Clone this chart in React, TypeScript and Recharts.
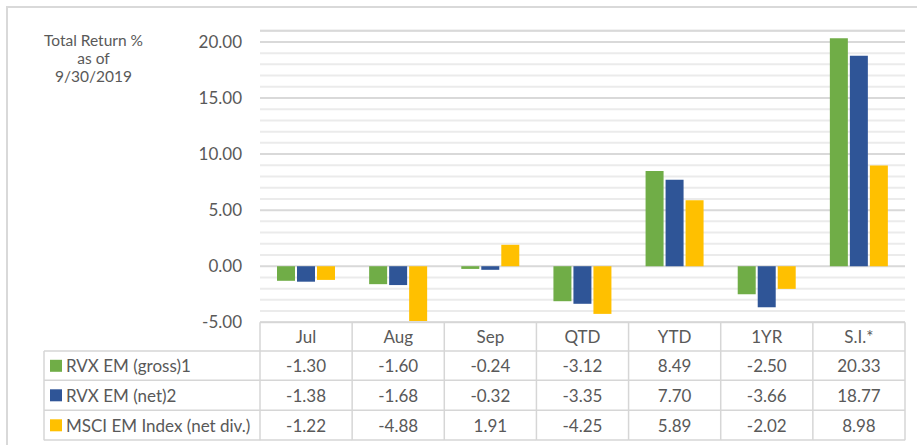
import React from "react";
import { BarChart, Bar, XAxis, YAxis, CartesianGrid, ReferenceLine } from "recharts";

const categories = ["Jul", "Aug", "Sep", "QTD", "YTD", "1YR", "S.I.*"];
const grossValues = [-1.3, -1.6, -0.24, -3.12, 8.49, -2.5, 20.33];
const netValues = [-1.38, -1.68, -0.32, -3.35, 7.7, -3.66, 18.77];
const msciValues = [-1.22, -4.88, 1.91, -4.25, 5.89, -2.02, 8.98];
const seriesNames = ["RVX EM (gross)1", "RVX EM (net)2", "MSCI EM Index (net div.)"];
const seriesKeys = ["gross", "net", "msci"];
const seriesColors = ["#70AD47", "#2F5597", "#FFC000"];
const seriesValues = [grossValues, netValues, msciValues];
const majorTicks = [-5, 0, 5, 10, 15, 20];
const minorTicks = [-4, -3, -2, -1, 1, 2, 3, 4, 6, 7, 8, 9, 11, 12, 13, 14, 16, 17, 18, 19, 21];
const titleLines = ["Total Return %", "as of", "9/30/2019"];

const data = categories.map((c, i) => ({
  name: c,
  gross: grossValues[i],
  net: netValues[i],
  msci: msciValues[i],
}));

const W = 917;
const H = 445;
const PLOT_LEFT = 260;
const PLOT_RIGHT = 905;
const PLOT_TOP = 30.7;
const PLOT_BOTTOM = 322.3;
const TABLE_H = 118;
const BAND = (PLOT_RIGHT - PLOT_LEFT) / categories.length;
const LEGEND_LEFT = 44;
const ROW_LINES = [28.7, 58, 88, 117.7];
const ROW_CENTERS = [14.5, 43.5, 73, 103];
const FONT = "Lato, 'Open Sans', sans-serif";
const TEXT = "#595959";
const LINE = "#d6d6d6";
const DOMAIN: [number, number] = [-5, 21];

const TableTick = (props: any) => {
  const { x, y, payload } = props;
  const i = categories.indexOf(payload.value);
  const left = x - BAND / 2;
  const right = x + BAND / 2;
  const els: any[] = [];
  els.push(<line key="vl" x1={left} x2={left} y1={y} y2={y + TABLE_H} stroke={LINE} strokeWidth={1.5} />);
  if (i === categories.length - 1) {
    els.push(<line key="vr" x1={right} x2={right} y1={y} y2={y + TABLE_H} stroke={LINE} strokeWidth={1.5} />);
  }
  ROW_LINES.forEach((r, k) => {
    els.push(<line key={"h" + k} x1={left} x2={right} y1={y + r} y2={y + r} stroke={LINE} strokeWidth={1.5} />);
  });
  els.push(
    <text key="hd" x={x} y={y + ROW_CENTERS[0]} textAnchor="middle" dominantBaseline="central" fill={TEXT} fontSize={17} fontFamily={FONT}>
      {payload.value}
    </text>
  );
  seriesValues.forEach((vals, k) => {
    els.push(
      <text key={"v" + k} x={x} y={y + ROW_CENTERS[k + 1]} textAnchor="middle" dominantBaseline="central" fill={TEXT} fontSize={17} fontFamily={FONT}>
        {vals[i].toFixed(2)}
      </text>
    );
  });
  if (i === 0) {
    const lx = LEGEND_LEFT;
    ROW_LINES.forEach((r, k) => {
      els.push(<line key={"lh" + k} x1={lx} x2={left} y1={y + r} y2={y + r} stroke={LINE} strokeWidth={1.5} />);
    });
    els.push(<line key="lv" x1={lx} x2={lx} y1={y + ROW_LINES[0]} y2={y + TABLE_H} stroke={LINE} strokeWidth={1.5} />);
    seriesNames.forEach((n, k) => {
      const cy = y + ROW_CENTERS[k + 1];
      els.push(<rect key={"sw" + k} x={lx + 6} y={cy - 6} width={12} height={12} fill={seriesColors[k]} />);
      els.push(
        <text key={"ln" + k} x={lx + 22} y={cy} dominantBaseline="central" fill={TEXT} fontSize={17} fontFamily={FONT}>
          {n}
        </text>
      );
    });
  }
  return <g>{els}</g>;
};

export default function App() {
  return (
    <div style={{ position: "relative", width: W, height: H, overflow: "hidden", background: "#fff" }}>
      <style>{`body{margin:0;overflow:hidden;}`}</style>
      <div
        style={{
          position: "absolute",
          left: 6,
          top: 6,
          width: W,
          height: H,
          borderLeft: "2px solid #d9d9d9",
          borderTop: "2px solid #d9d9d9",
        }}
      />
      <div
        style={{
          position: "absolute",
          left: 23,
          top: 31,
          width: 141,
          textAlign: "center",
          fontFamily: FONT,
          fontSize: 15.5,
          lineHeight: "18px",
          color: TEXT,
        }}
      >
        {titleLines.map((t) => (
          <div key={t}>{t}</div>
        ))}
      </div>
      <div style={{ position: "absolute", left: 0, top: 0 }}>
        <BarChart
          width={W}
          height={H}
          data={data}
          margin={{ top: PLOT_TOP, right: W - PLOT_RIGHT, bottom: H - PLOT_BOTTOM - TABLE_H, left: 0 }}
          barCategoryGap={17}
          barGap={2}
        >
          {minorTicks.map((v) => (
            <ReferenceLine key={"m" + v} y={v} stroke="#ebebeb" strokeWidth={2} zIndex={-100} />
          ))}
          <CartesianGrid vertical={false} stroke="#d9d9d9" strokeWidth={2} />
          <XAxis
            dataKey="name"
            height={TABLE_H}
            tickSize={0}
            tickMargin={0}
            interval={0}
            axisLine={{ stroke: LINE, strokeWidth: 1.5 }}
            tickLine={false}
            tick={<TableTick />}
          />
          <YAxis
            type="number"
            width={PLOT_LEFT}
            domain={DOMAIN}
            ticks={majorTicks}
            interval={0}
            axisLine={false}
            tickLine={false}
            tickSize={0}
            tickMargin={18}
            tickFormatter={(v: number) => v.toFixed(2)}
            tick={{ fill: TEXT, fontSize: 17, fontFamily: FONT }}
          />
          {seriesKeys.map((k, i) => (
            <Bar key={k} dataKey={k} fill={seriesColors[i]} isAnimationActive={false} />
          ))}
        </BarChart>
      </div>
    </div>
  );
}
